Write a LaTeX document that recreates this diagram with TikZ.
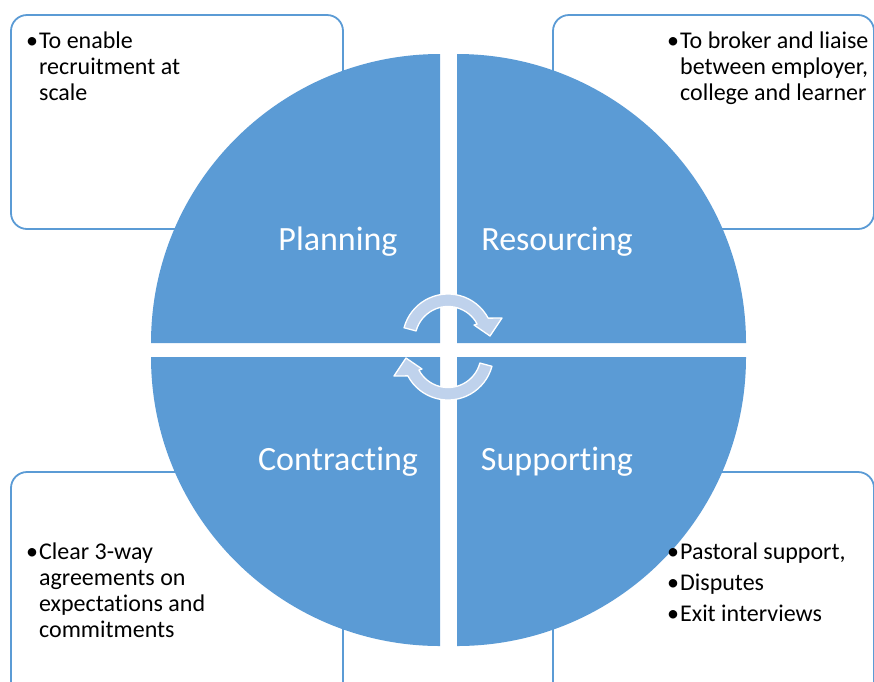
\documentclass[tikz,border=0pt]{standalone}
\usepackage{fontspec}
\setmainfont[Ligatures={NoCommon,NoContextual}]{Carlito}
\usetikzlibrary{calc}
\definecolor{qblue}{HTML}{5B9BD5}
\definecolor{arrowblue}{HTML}{BFD2EC}
\begin{document}
\begin{tikzpicture}[x=1pt,y=-1pt,
  infobox/.style={draw=qblue, line width=1.8pt, fill=white, rounded corners=16pt},
  quad/.style={fill=qblue},
  qlabel/.style={text=white, font=\fontsize{34}{40}\selectfont, anchor=base, inner sep=0pt},
  btext/.style={font=\fontsize{24}{26.3}\selectfont, anchor=base west, inner sep=0pt, text=black},
  cyc/.style={fill=arrowblue, draw=white, line width=1.3pt, line join=round}]
\useasboundingbox (0,0) rectangle (874,681);
\begin{scope}
\clip (0,0) rectangle (874,681);
% information boxes
\draw[infobox] (11,15) rectangle (343,229);
\draw[infobox] (553,15) rectangle (874,229);
\draw[infobox] (11,472) rectangle (343,705);
\draw[infobox] (553,472) rectangle (874,705);
\end{scope}
% quadrants
\fill[quad] (440,343) -- ++(180:289) arc[start angle=180, end angle=270, radius=289] -- cycle;
\fill[quad] (457,343) -- ++(270:289) arc[start angle=270, end angle=360, radius=289] -- cycle;
\fill[quad] (440,357) -- ++(90:289) arc[start angle=90, end angle=180, radius=289] -- cycle;
\fill[quad] (457,357) -- ++(0:289) arc[start angle=0, end angle=90, radius=289] -- cycle;
% quadrant labels
\node[qlabel] (planning) at (338,250) {Planning};
\node[qlabel] (resourcing) at (557,250) {Resourcing};
\node[qlabel] (contracting) at (338,470) {Contracting};
\node[qlabel] (supporting) at (557,470) {Supporting};
% cycle arrows
\begin{scope}[shift={(448,339.5)}]
\path[cyc] (-165:45.5) arc[start angle=-165, end angle=-28, radius=45.5]
  -- (54,-21.5) -- (42,-3.5) -- (26,-14.5) -- (-28:33)
  arc[start angle=-28, end angle=-165, radius=33] -- cycle;
\end{scope}
\begin{scope}[shift={(448,354.5)}, rotate=180]
\path[cyc] (-165:45.5) arc[start angle=-165, end angle=-28, radius=45.5]
  -- (54,-21.5) -- (42,-3.5) -- (26,-14.5) -- (-28:33)
  arc[start angle=-28, end angle=-165, radius=33] -- cycle;
\end{scope}
% box texts
\node[btext] (tltext) at (26,48.3) {\begin{tabular}[t]{@{}l@{\hspace{1pt}}l@{}}•&To enable\\ &recruitment at\\ &scale\end{tabular}};
\node[btext] (trtext) at (667,48.3) {\begin{tabular}[t]{@{}l@{\hspace{1pt}}l@{}}•&To broker and liaise\\ &between employer,\\ &college and learner\end{tabular}};
\node[btext] (bltext) at (26,559) {\begin{tabular}[t]{@{}l@{\hspace{1pt}}l@{}}•&Clear 3-way\\ &agreements on\\ &expectations and\\ &commitments\end{tabular}};
\node[btext] (brtext) at (667,559) {\begin{tabular}[t]{@{}l@{\hspace{1pt}}l@{}}•&Pastoral support,\\[4.7pt] •&Disputes\\[4.7pt] •&Exit interviews\end{tabular}};
\end{tikzpicture}
\end{document}
